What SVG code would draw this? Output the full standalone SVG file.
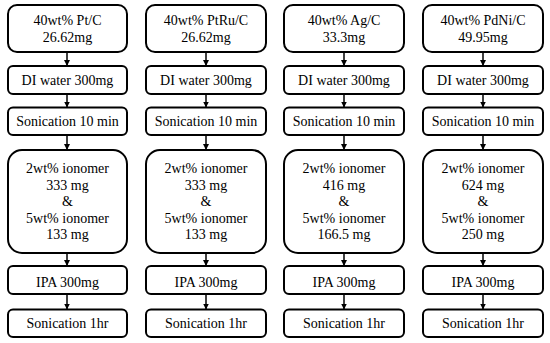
<svg xmlns="http://www.w3.org/2000/svg" width="550" height="343" viewBox="0 0 550 343">
<defs>
<style>
.b{fill:#fff;stroke:#000;stroke-width:2}
.t{font-family:'Liberation Serif','DejaVu Serif',serif;font-size:14px;fill:#000;text-anchor:middle}
.c{stroke:#000;stroke-width:1.5;fill:none;marker-end:url(#ah)}
</style>
<marker id="ah" viewBox="0 0 10 10" refX="10" refY="5" markerWidth="4" markerHeight="4" orient="auto" markerUnits="strokeWidth">
<path d="M0,0 L10,5 L0,10 z" fill="#000"/>
</marker>
</defs>
<rect width="550" height="343" fill="#fff"/>
<g id="connectors">
<path class="c" d="M67,52 V66"/><path class="c" d="M67,94 V107.5"/><path class="c" d="M67,135 V150"/><path class="c" d="M67,253 V266"/><path class="c" d="M67,294 V309.5"/>
<path class="c" d="M206,52 V66"/><path class="c" d="M206,94 V107.5"/><path class="c" d="M206,135 V150"/><path class="c" d="M206,253 V266"/><path class="c" d="M206,294 V309.5"/>
<path class="c" d="M344,52 V66"/><path class="c" d="M344,94 V107.5"/><path class="c" d="M344,135 V150"/><path class="c" d="M344,253 V266"/><path class="c" d="M344,294 V309.5"/>
<path class="c" d="M483,52 V66"/><path class="c" d="M483,94 V107.5"/><path class="c" d="M483,135 V150"/><path class="c" d="M483,253 V266"/><path class="c" d="M483,294 V309.5"/>
</g>
<g id="c1-cat"><rect class="b" x="8" y="5" width="119" height="47" rx="9"/><text class="t" x="67.5" y="25">40wt% Pt/C</text><text class="t" x="67.5" y="41.5">26.62mg</text></g>
<g id="c1-di"><rect class="b" x="8" y="66" width="119" height="28" rx="5"/><text class="t" x="67.5" y="85">DI water 300mg</text></g>
<g id="c1-son10"><rect class="b" x="8" y="107.5" width="119" height="27.5" rx="5"/><text class="t" x="67.5" y="126">Sonication 10 min</text></g>
<g id="c1-ion"><rect class="b" x="8" y="150" width="119" height="103" rx="14"/><text class="t" x="67.5" y="173">2wt% ionomer</text><text class="t" x="67.5" y="189.5">333 mg</text><text class="t" x="67.5" y="206">&amp;</text><text class="t" x="67.5" y="222.5">5wt% ionomer</text><text class="t" x="67.5" y="239">133 mg</text></g>
<g id="c1-ipa"><rect class="b" x="8" y="266" width="119" height="28" rx="5"/><text class="t" x="67.5" y="287">IPA 300mg</text></g>
<g id="c1-son1"><rect class="b" x="8" y="309.5" width="119" height="27.5" rx="5"/><text class="t" x="67.5" y="328">Sonication 1hr</text></g>
<g id="c2-cat"><rect class="b" x="146" y="5" width="120" height="47" rx="9"/><text class="t" x="206" y="25">40wt% PtRu/C</text><text class="t" x="206" y="41.5">26.62mg</text></g>
<g id="c2-di"><rect class="b" x="146" y="66" width="120" height="28" rx="5"/><text class="t" x="206" y="85">DI water 300mg</text></g>
<g id="c2-son10"><rect class="b" x="146" y="107.5" width="120" height="27.5" rx="5"/><text class="t" x="206" y="126">Sonication 10 min</text></g>
<g id="c2-ion"><rect class="b" x="146" y="150" width="120" height="103" rx="14"/><text class="t" x="206" y="173">2wt% ionomer</text><text class="t" x="206" y="189.5">333 mg</text><text class="t" x="206" y="206">&amp;</text><text class="t" x="206" y="222.5">5wt% ionomer</text><text class="t" x="206" y="239">133 mg</text></g>
<g id="c2-ipa"><rect class="b" x="146" y="266" width="120" height="28" rx="5"/><text class="t" x="206" y="287">IPA 300mg</text></g>
<g id="c2-son1"><rect class="b" x="146" y="309.5" width="120" height="27.5" rx="5"/><text class="t" x="206" y="328">Sonication 1hr</text></g>
<g id="c3-cat"><rect class="b" x="284" y="5" width="120" height="47" rx="9"/><text class="t" x="344" y="25">40wt% Ag/C</text><text class="t" x="344" y="41.5">33.3mg</text></g>
<g id="c3-di"><rect class="b" x="284" y="66" width="120" height="28" rx="5"/><text class="t" x="344" y="85">DI water 300mg</text></g>
<g id="c3-son10"><rect class="b" x="284" y="107.5" width="120" height="27.5" rx="5"/><text class="t" x="344" y="126">Sonication 10 min</text></g>
<g id="c3-ion"><rect class="b" x="284" y="150" width="120" height="103" rx="14"/><text class="t" x="344" y="173">2wt% ionomer</text><text class="t" x="344" y="189.5">416 mg</text><text class="t" x="344" y="206">&amp;</text><text class="t" x="344" y="222.5">5wt% ionomer</text><text class="t" x="344" y="239">166.5 mg</text></g>
<g id="c3-ipa"><rect class="b" x="284" y="266" width="120" height="28" rx="5"/><text class="t" x="344" y="287">IPA 300mg</text></g>
<g id="c3-son1"><rect class="b" x="284" y="309.5" width="120" height="27.5" rx="5"/><text class="t" x="344" y="328">Sonication 1hr</text></g>
<g id="c4-cat"><rect class="b" x="423" y="5" width="120" height="47" rx="9"/><text class="t" x="483" y="25">40wt% PdNi/C</text><text class="t" x="483" y="41.5">49.95mg</text></g>
<g id="c4-di"><rect class="b" x="423" y="66" width="120" height="28" rx="5"/><text class="t" x="483" y="85">DI water 300mg</text></g>
<g id="c4-son10"><rect class="b" x="423" y="107.5" width="120" height="27.5" rx="5"/><text class="t" x="483" y="126">Sonication 10 min</text></g>
<g id="c4-ion"><rect class="b" x="423" y="150" width="120" height="103" rx="14"/><text class="t" x="483" y="173">2wt% ionomer</text><text class="t" x="483" y="189.5">624 mg</text><text class="t" x="483" y="206">&amp;</text><text class="t" x="483" y="222.5">5wt% ionomer</text><text class="t" x="483" y="239">250 mg</text></g>
<g id="c4-ipa"><rect class="b" x="423" y="266" width="120" height="28" rx="5"/><text class="t" x="483" y="287">IPA 300mg</text></g>
<g id="c4-son1"><rect class="b" x="423" y="309.5" width="120" height="27.5" rx="5"/><text class="t" x="483" y="328">Sonication 1hr</text></g>
</svg>
